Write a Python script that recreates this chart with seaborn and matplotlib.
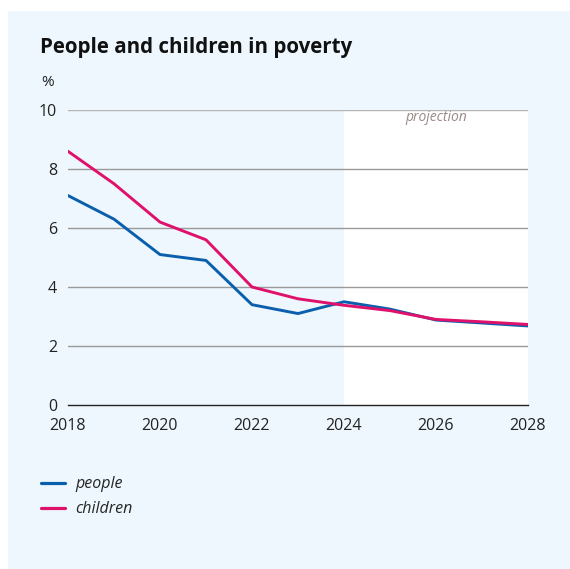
import matplotlib
matplotlib.use("Agg")
import matplotlib.pyplot as plt
import seaborn as sns
import pandas as pd
from matplotlib.patches import Rectangle
from matplotlib.lines import Line2D

years = [2018, 2019, 2020, 2021, 2022, 2023, 2024, 2025, 2026, 2027, 2028]
people = [7.1, 6.3, 5.1, 4.9, 3.4, 3.1, 3.5, 3.25, 2.88, 2.78, 2.68]
children = [8.6, 7.5, 6.2, 5.6, 4.0, 3.6, 3.38, 3.2, 2.9, 2.82, 2.73]
series_names = ["people", "children"]
colors = ["#0a5fac", "#e0116b"]
xticks = [2018, 2020, 2022, 2024, 2026, 2028]
yticks = [0, 2, 4, 6, 8, 10]
projection_start = 2024

sns.set_theme(style="white")
plt.rcParams["font.family"] = ["Open Sans", "DejaVu Sans"]

bg = "#edf7fd"
fig = plt.figure(figsize=(5.7, 5.69), dpi=100)
fig.patch.set_facecolor("white")
fig.add_artist(Rectangle((8 / 570, 0), 1 - 8 / 570, 1 - 11 / 569,
                         transform=fig.transFigure, facecolor=bg,
                         edgecolor="none", zorder=-10))

ax = fig.add_axes([68 / 570, 1 - 405 / 569, 460 / 570, 295 / 569])
ax.set_facecolor("none")

df = pd.DataFrame({"year": years * 2,
                   "value": people + children,
                   "series": [series_names[0]] * len(years) + [series_names[1]] * len(years)})

ax.axvspan(projection_start, years[-1], ymin=0, ymax=1, facecolor="white",
           edgecolor="none", zorder=0)

for yv in yticks[1:]:
    ax.axhline(yv, color="#9a9a9a" if yv != 10 else "#b5b5b5", lw=1.0, zorder=1)

sns.lineplot(data=df, x="year", y="value", hue="series", palette=colors,
             linewidth=2.1, ax=ax, legend=False, zorder=3)

ax.set_xlim(2018, 2028)
ax.set_ylim(0, 10)
ax.set_xticks(xticks)
ax.set_yticks(yticks)
ax.set_xlabel("")
ax.set_ylabel("")
for s in ["top", "right", "left"]:
    ax.spines[s].set_visible(False)
ax.spines["bottom"].set_color("#222222")
ax.spines["bottom"].set_linewidth(1.0)
ax.spines["bottom"].set_zorder(4)
ax.tick_params(axis="x", direction="out", length=6, width=1, color="#444444",
               labelsize=11.5, pad=3, labelcolor="#222222")
ax.tick_params(axis="y", length=0, labelsize=11.5, pad=8, labelcolor="#222222")

ax.text(2026, 10.0, "projection", ha="center", va="top", fontsize=10,
        style="italic", color="#9a8888")

fig.text(40 / 570, 1 - 48 / 569, "People and children in poverty", fontsize=14.8,
         fontweight="bold", color="#111111", va="center", ha="left")
fig.text(41 / 570, 1 - 83 / 569, "%", fontsize=11, color="#222222",
         va="center", ha="left")

handles = [Line2D([0], [0], color=c, lw=2.3) for c in colors]
leg = fig.legend(handles, series_names, loc="upper left",
                 bbox_to_anchor=(27 / 570, 1 - 462 / 569), frameon=False,
                 handlelength=1.45, handletextpad=0.7, labelspacing=0.55,
                 prop={"size": 11.5, "style": "italic"})

fig.savefig("out.png", dpi=100, facecolor=fig.get_facecolor())
